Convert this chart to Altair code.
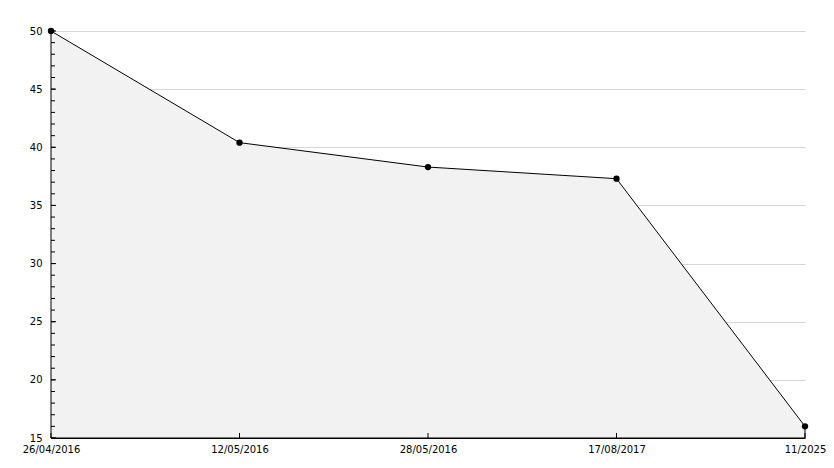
import altair as alt
import pandas as pd

dates = ["26/04/2016", "12/05/2016", "28/05/2016", "17/08/2017", "11/2025"]
values = [50.0, 40.4, 38.3, 37.3, 16.0]
major_ticks = [15, 20, 25, 30, 35, 40, 45, 50]
minor_ticks = list(range(15, 51))

df = pd.DataFrame({"date": dates, "value": values})
minor_df = pd.DataFrame({"value": minor_ticks})
major_df = pd.DataFrame({"value": major_ticks})

FONT = "DejaVu Sans"

xscale = alt.Scale(type="point", padding=0, domain=dates)
yscale = alt.Scale(domain=[15, 50], nice=False, zero=False)

x_axis = alt.Axis(title=None, labelAngle=0, ticks=False, grid=False,
                  domainColor="black", domainWidth=1,
                  labelFont=FONT, labelFontSize=10, labelColor="black",
                  labelPadding=6, labelOverlap=False, labelFlush=False)
y_axis = alt.Axis(title=None, values=major_ticks, ticks=False, grid=True,
                  gridColor="#d6d6d6", gridWidth=1,
                  domainColor="black", domainWidth=1,
                  labelFont=FONT, labelFontSize=10, labelColor="black",
                  labelPadding=9)

x_enc = alt.X("date:N", scale=xscale, sort=dates, axis=x_axis)
y_enc = alt.Y("value:Q", scale=yscale, axis=y_axis)

base = alt.Chart(df)

area = base.mark_area(fill="#f2f2f2", stroke="black", strokeWidth=1,
                      opacity=1, interpolate="linear").encode(
    x=x_enc, y=y_enc, y2=alt.datum(15)
)

points = base.mark_point(filled=True, color="black", size=40, opacity=1,
                         shape="circle").encode(x=x_enc, y=y_enc)

minor_rules = alt.Chart(minor_df).mark_rule(color="black", strokeWidth=1).encode(
    y=y_enc, x=alt.value(0), x2=alt.value(4),
)
major_rules = alt.Chart(major_df).mark_rule(color="black", strokeWidth=1).encode(
    y=y_enc, x=alt.value(0), x2=alt.value(5),
)
x_rules = base.mark_rule(color="black", strokeWidth=1).encode(
    x=x_enc, y=alt.value(402), y2=alt.value(407),
)

chart = alt.layer(area, minor_rules, major_rules, x_rules, points).properties(
    width=754, height=407,
    autosize=alt.AutoSizeParams(type="none"),
    padding={"left": 43, "top": 23, "right": 21, "bottom": 20},
    background="white",
).configure_view(stroke=None)

chart.save("out.html", embed_options={"renderer": "svg", "actions": False})
